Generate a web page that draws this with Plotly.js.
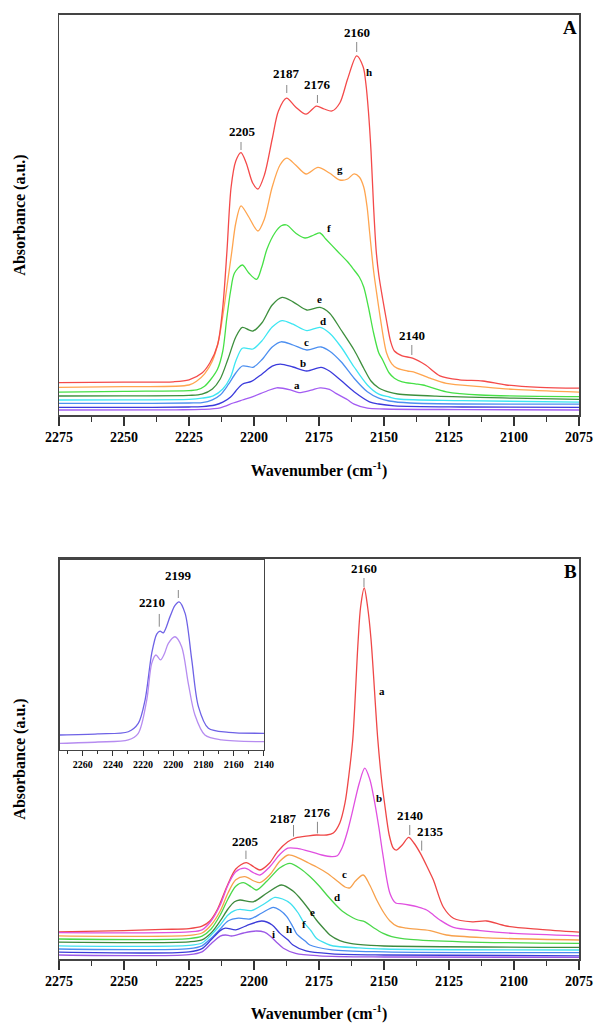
<!DOCTYPE html>
<html>
<head>
<meta charset="utf-8">
<script src="https://cdn.plot.ly/plotly-3.0.1.min.js"></script>
<style>html,body{margin:0;padding:0;background:#fff;}#chart{width:594px;height:1023px;}</style>
</head>
<body>
<div id="chart"></div>
<script>
// ---------- Panel A data (wavenumber, absorbance a.u.) ----------
const wnA_a = [2275, 2230, 2220, 2213, 2208, 2204.5, 2200.4, 2195, 2191.3, 2186, 2182.7, 2178, 2174.6, 2171, 2168.5, 2164, 2161.5, 2156.4, 2150, 2120, 2075];
const absA_a = [1.25, 1.3, 1.4, 1.8, 3, 3.75, 4.6, 6, 6.8, 6.3, 5.6, 6.2, 6.8, 6.4, 5.4, 3.8, 2.7, 1.7, 1.5, 1.35, 1.25];
const wnA_b = [2275, 2250, 2225, 2220, 2215, 2212, 2209, 2207, 2204.5, 2201, 2197, 2193, 2189.9, 2185, 2179.7, 2174.2, 2171, 2166.5, 2161.5, 2155.6, 2152, 2146, 2120, 2075];
const absA_b = [1.9, 1.9, 2, 2.1, 2.5, 3.2, 4.5, 6, 7.7, 8.4, 10.2, 12.2, 12.7, 12, 11, 11.9, 11, 8.6, 5.8, 3.3, 2.75, 2.3, 2, 1.9];
const wnA_c = [2275, 2250, 2225, 2220, 2216, 2213, 2210, 2207, 2204.5, 2202, 2200.4, 2197, 2193, 2189.6, 2185, 2179.7, 2174.2, 2171, 2166.5, 2161.5, 2156.4, 2152, 2148, 2140, 2075];
const absA_c = [2.9, 2.9, 3, 3.1, 3.8, 5, 7.5, 10.5, 12.25, 12.1, 11.9, 13.8, 17, 18.3, 17.5, 16.25, 17, 16, 13.3, 9.2, 5.8, 4.2, 3.5, 3, 2.7];
const wnA_d = [2275, 2250, 2225, 2220, 2215.7, 2212, 2209, 2207, 2204.5, 2202, 2200.4, 2197, 2193, 2189.2, 2185, 2179.7, 2174.6, 2171, 2166.5, 2161.5, 2156.4, 2152, 2148, 2144.5, 2120, 2075];
const absA_d = [3.75, 3.8, 3.9, 4.2, 4.8, 6.5, 9.5, 13.5, 16.7, 16.6, 16.5, 18.5, 22, 23.6, 22.7, 21.1, 21.9, 20.5, 17, 12, 7.5, 5.2, 4.5, 4, 3.6, 3.2];
const wnA_e = [2275, 2250, 2225, 2220, 2216, 2213, 2210, 2207, 2204.5, 2202, 2200.4, 2197, 2193, 2189.2, 2185, 2179.7, 2174.6, 2171, 2166.5, 2161.5, 2157.8, 2155, 2152, 2148, 2144.7, 2130, 2100, 2075];
const absA_e = [4.75, 4.8, 4.9, 5.2, 6.5, 9, 14, 19.5, 21.9, 21.3, 21, 23, 27.5, 29.4, 28.3, 26.25, 26.9, 25.5, 21.25, 16.25, 11.7, 8.5, 6.75, 5.7, 5.25, 4.7, 4.2, 3.9];
const wnA_f = [2275, 2250, 2225, 2222, 2219, 2216.5, 2214, 2212, 2210.5, 2209, 2207.5, 2204.5, 2202, 2199, 2197, 2195, 2192, 2189.5, 2187.4, 2184, 2180.4, 2177, 2174.6, 2172.4, 2168, 2164, 2161.5, 2159.5, 2157.8, 2156, 2154, 2152, 2150.5, 2148, 2146, 2143, 2138, 2135, 2126, 2113, 2075];
const absA_f = [5.7, 5.9, 6.1, 6.25, 7.2, 9, 11.5, 16, 24, 31, 35.5, 37.5, 35.5, 33.9, 37, 41.5, 45.5, 47.3, 47.5, 45.5, 44.25, 45, 45.5, 44, 41, 38.3, 36.25, 34.5, 32, 27, 20.5, 15.5, 13.75, 10.5, 9.2, 8.3, 7.8, 7.5, 5.8, 5, 4.6];
const wnA_g = [2275, 2250, 2225, 2222, 2219, 2216, 2213.5, 2211.5, 2210, 2208.5, 2207, 2205, 2202, 2198.5, 2196, 2193, 2190, 2187.4, 2184, 2180, 2175.4, 2171, 2167, 2164, 2161.5, 2159.5, 2157.8, 2156.5, 2155.5, 2154, 2152.5, 2151.5, 2150, 2149, 2147, 2145, 2141, 2138.7, 2132.3, 2126, 2113, 2100, 2075];
const absA_g = [6.9, 7.1, 7.5, 8.5, 10.3, 13.5, 19, 27, 34, 41, 48, 52.3, 49.5, 46, 49, 57, 62.5, 64.2, 62.5, 60.25, 61.9, 60.5, 58.75, 59, 60.3, 59.5, 57, 52, 45.5, 36, 29, 24.6, 18.5, 15.5, 12.8, 11.7, 11, 10.8, 9.2, 7.9, 7.1, 6.4, 5.7];
const wnA_h = [2275, 2250, 2231, 2225, 2220, 2217, 2214, 2212, 2210.4, 2208.8, 2207, 2205, 2203, 2200.5, 2198.5, 2196, 2193, 2190.6, 2187.5, 2184, 2180, 2176, 2173, 2170, 2167, 2164, 2160.5, 2158, 2157, 2156, 2155, 2154, 2153, 2152, 2150.5, 2149, 2147.5, 2146, 2143, 2139, 2134, 2128.5, 2121, 2112, 2103, 2090, 2075];
const absA_h = [8.1, 8.2, 8.3, 8.8, 10.5, 13, 17.5, 27, 41, 57, 63.5, 65.6, 63, 58, 56.5, 60, 69, 76, 79.2, 77, 75.2, 77.2, 76.5, 76, 78, 84, 89.8, 87, 83, 76, 66, 52, 41, 35, 29, 23.5, 18.5, 16, 14.8, 14.2, 12.5, 9.8, 8.8, 8.5, 7.5, 6.9, 6.7];

// ---------- Panel B data ----------
const wnB_a = [2275, 2250, 2235, 2225, 2220, 2217, 2214, 2210.5, 2207, 2203, 2200, 2197.7, 2194, 2191, 2187, 2184, 2179, 2176, 2172, 2169.5, 2167, 2165, 2163.5, 2162, 2160, 2159, 2157.6, 2156.3, 2155, 2152.4, 2150.8, 2149.8, 2148, 2146.5, 2145.3, 2143, 2140.5, 2138.5, 2136, 2133, 2131, 2127.2, 2123.3, 2116, 2110.5, 2103, 2090, 2075];
const absB_a = [6.8, 7.1, 7.4, 7.6, 8.2, 9.5, 12.5, 18, 22.5, 24.1, 23, 22.25, 24, 26.8, 29.3, 30.3, 30.8, 31, 31, 31.5, 34, 39, 46, 55, 79, 88, 92.75, 88, 80, 55, 44, 39, 31, 27.8, 27.2, 28.5, 30.4, 29, 26.4, 22.5, 19.75, 13, 10.2, 9.3, 9.5, 8.25, 7.4, 6.7];
const wnB_b = [2275, 2225, 2220, 2216.5, 2213, 2210, 2207, 2203.5, 2200, 2197.7, 2194, 2190, 2187, 2183, 2178, 2173.9, 2170, 2168, 2166, 2164, 2162.3, 2159.5, 2157.4, 2155.5, 2154, 2152, 2150.5, 2147.7, 2145.5, 2143, 2140.4, 2137, 2133.6, 2131, 2128.5, 2123.3, 2113, 2100, 2075];
const absB_b = [6.6, 6.8, 7.3, 9.5, 13.5, 18.5, 21.8, 22.7, 21.5, 21, 23, 26.2, 27.7, 27.6, 26.8, 26, 25.6, 25.8, 28, 32, 36.4, 44, 47.7, 45, 40.6, 33, 26.4, 16.4, 14, 13.8, 13.5, 13, 12.25, 11, 9.75, 7.9, 7.1, 6.4, 5.8];
const wnB_c = [2275, 2225, 2220, 2216.5, 2213, 2210, 2207, 2203.5, 2200, 2197.7, 2194, 2190, 2186.8, 2183, 2179, 2175.9, 2172, 2168, 2165, 2163.1, 2161, 2158, 2155.5, 2152.8, 2150, 2147.7, 2145, 2141.3, 2132.3, 2126, 2110, 2075];
const absB_c = [5.8, 5.9, 6.5, 8.5, 12, 16.5, 19.8, 20.6, 19.5, 19.1, 21, 24.5, 26, 25.3, 24, 23, 21.5, 19.5, 18, 17.8, 19.5, 21, 18.5, 14.75, 11.5, 9.5, 8.2, 7.7, 7.1, 6, 5.3, 4.75];
const wnB_d = [2275, 2225, 2220, 2216.5, 2213, 2210, 2207, 2204.1, 2201, 2199, 2195, 2190, 2186.2, 2182, 2178.5, 2175, 2172, 2168.5, 2165.7, 2162, 2160, 2157.3, 2154, 2150.3, 2147, 2140, 2120, 2075];
const absB_d = [5, 5.1, 5.7, 7.5, 11, 15, 18.2, 19.1, 18, 17.25, 19.5, 22.8, 23.9, 22.5, 20.6, 18.3, 16, 13.5, 11.8, 10.3, 9.75, 9.3, 7.8, 6.4, 5.6, 4.9, 4.3, 3.9];
const wnB_e = [2275, 2225, 2220, 2216.5, 2213, 2210, 2207.5, 2205.4, 2200.3, 2195, 2189.4, 2185, 2182.3, 2179, 2176, 2173, 2170.8, 2167, 2163, 2155, 2150, 2075];
const absB_e = [4.2, 4.3, 4.8, 6.5, 9.5, 12.5, 14.3, 14.75, 14.3, 16.5, 18.5, 17, 15.2, 12.5, 9.75, 7.5, 6, 4.6, 3.9, 3.4, 3.25, 2.9];
const wnB_f = [2275, 2225, 2220, 2216.5, 2213, 2210, 2207.5, 2205.4, 2201, 2196, 2192, 2189, 2186, 2183, 2181, 2178, 2176, 2172, 2169.5, 2160, 2150, 2075];
const absB_f = [3.3, 3.4, 4, 6, 8.5, 11, 12.1, 12.4, 12.1, 13.8, 15.4, 15, 13.9, 11.5, 9.3, 7, 5.2, 3.8, 3.25, 2.8, 2.5, 2.25];
const wnB_g = [2275, 2225, 2220, 2216.5, 2213, 2210, 2206, 2201.5, 2197, 2192.6, 2190, 2187.4, 2185, 2183.6, 2180, 2178.5, 2170, 2150, 2075];
const absB_g = [2.5, 2.6, 3.3, 5.2, 7.5, 9.5, 10.2, 10, 11.5, 12.9, 12.2, 10.6, 8, 6.3, 4.3, 3.5, 2.3, 1.8, 1.6];
const wnB_h = [2275, 2225, 2220, 2216.5, 2213, 2211, 2207, 2203, 2197, 2193, 2190, 2187, 2185, 2180, 2170, 2150, 2075];
const absB_h = [1.7, 1.8, 2.6, 4.8, 7.1, 7.7, 7.3, 8.3, 9.5, 8.5, 6.4, 4.8, 3.5, 2, 1.3, 1, 0.8];
const wnB_i = [2275, 2225, 2220, 2216.5, 2213, 2211, 2208.6, 2204, 2199, 2196, 2193.8, 2191, 2188.7, 2184, 2175, 2150, 2075];
const absB_i = [1, 1.1, 1.8, 3.8, 5.7, 6, 5.75, 6.5, 7, 6.7, 5.75, 4, 2.7, 1.4, 0.8, 0.5, 0.4];

// ---------- Inset data ----------
const wnI_1 = [2275, 2250, 2229.8, 2223.2, 2218.7, 2214.3, 2211, 2208.8, 2206.6, 2202.2, 2199, 2196.2, 2192.2, 2187.8, 2183.4, 2176.8, 2163.5, 2140];
const absI_1 = [7.9, 8.5, 9.6, 14, 26.3, 50.9, 61, 62.6, 61.7, 70.2, 76, 78, 71.9, 47.4, 22.8, 11.4, 9.3, 8.8];
const wnI_2 = [2275, 2250, 2229.8, 2223.2, 2217.6, 2214.3, 2211.5, 2208.5, 2206, 2203.3, 2198.9, 2194.5, 2190.1, 2185.7, 2179.1, 2168.1, 2140];
const absI_2 = [3.5, 4.2, 5.3, 8.8, 26.3, 45.6, 50, 47.4, 50.5, 56.1, 59.6, 54.4, 35.1, 18.4, 7.9, 5.3, 4.4];

// ---------- Labels ----------
const curveLettersA = ['a', 'b', 'c', 'd', 'e', 'f', 'g', 'h'];
const curveLettersB = ['a', 'b', 'c', 'd', 'e', 'f', 'h', 'i'];
const peakLabelsA = ['2205', '2187', '2176', '2160', '2140'];
const peakLabelsB = ['2160', '2205', '2187', '2176', '2140', '2135'];
const peakLabelsInset = ['2199', '2210'];
const xTickTitle = 'Wavenumber (cm<sup>-1</sup>)';
const yTickTitle = 'Absorbance (a.u.)';

// ---------- Styling ----------
const F = 'Liberation Serif, Times New Roman, serif';
const colorsA = ['#a35cf2', '#3b3bdc', '#4c8ff0', '#3de6f2', '#3d8f3d', '#46e046', '#ffa54f', '#f44a4a'];
const colorsB = ['#ef4747', '#e050e0', '#f7a14c', '#4ad84a', '#3d8a3d', '#40e0ef', '#4a8cf0', '#3c3cd8', '#9b57e6'];
const colorsI = ['#6e62e6', '#b68cf0'];

function line(x, y, color, xa, ya) {
  return {x: x, y: y, type: 'scatter', mode: 'lines', xaxis: xa, yaxis: ya,
    line: {color: color, width: 1.3, shape: 'spline', smoothing: 0.85}, hoverinfo: 'skip'};
}

const seriesA = [[wnA_a, absA_a], [wnA_b, absA_b], [wnA_c, absA_c], [wnA_d, absA_d], [wnA_e, absA_e], [wnA_f, absA_f], [wnA_g, absA_g], [wnA_h, absA_h]];
const seriesB = [[wnB_a, absB_a], [wnB_b, absB_b], [wnB_c, absB_c], [wnB_d, absB_d], [wnB_e, absB_e], [wnB_f, absB_f], [wnB_g, absB_g], [wnB_h, absB_h], [wnB_i, absB_i]];
const seriesI = [[wnI_1, absI_1], [wnI_2, absI_2]];

const traces = [];
seriesA.forEach((s, i) => traces.push(line(s[0], s[1], colorsA[i], 'x', 'y')));
seriesB.forEach((s, i) => traces.push(line(s[0], s[1], colorsB[i], 'x2', 'y2')));
seriesI.forEach((s, i) => traces.push(line(s[0], s[1], colorsI[i], 'x3', 'y3')));

// ---------- Annotation placement (positions, not data) ----------
const peakPosA = [[2204.5, 70.8, 2205, 66.25, 68.25], [2187.4, 85.25, 2187.4, 80.5, 82.5], [2175.6, 82.5, 2175.6, 78, 80], [2160.5, 95.6, 2160.5, 90.75, 93.25], [2139.3, 19.75, 2139.3, 15, 17.5]];
const letterPosA = [[2183.5, 7.6], [2181.2, 13], [2179.7, 18.2], [2173.6, 23.6], [2174.9, 29], [2171, 46.8], [2166.9, 61.5], [2155.8, 85.8]];
const peakPosB = [[2157.7, 97.6, 2157.7, 93, 95.25], [2203.1, 29.3, 2203.1, 25, 27.1], [2188.5, 35.2, 2184.8, 30.6, 33.5], [2175.4, 36.6, 2175.6, 31.4, 34.3], [2140, 35.8, 2140.1, 31, 33.5], [2132.3, 31.75, 2135.5, 27.1, 29.6]];
const letterPosB = [[2150.8, 67], [2152, 40.2], [2165.1, 21.3], [2168.1, 15.5], [2177.5, 11.7], [2180.8, 8.8], [2186.7, 7.4], [2192.5, 6.3]];
const peakPosI = [[2196.7, 91.6, 2196.7, 80, 84.2], [2213.9, 77.5, 2209.3, 64.9, 71.6]];

const annotations = [];
const shapes = [];
function addPeaks(labels, pos, xr, yr, size) {
  labels.forEach((t, i) => {
    const p = pos[i];
    annotations.push({x: p[0], y: p[1], xref: xr, yref: yr, text: t, showarrow: false,
      xanchor: 'center', yanchor: 'middle', font: {family: F, size: size, color: '#000', weight: 'bold'}});
    shapes.push({type: 'line', xref: xr, yref: yr, x0: p[2], x1: p[2], y0: p[3], y1: p[4],
      line: {color: '#888', width: 1}});
  });
}
function addLetters(labels, pos, xr, yr) {
  labels.forEach((t, i) => {
    annotations.push({x: pos[i][0], y: pos[i][1], xref: xr, yref: yr, text: t, showarrow: false,
      xanchor: 'center', yanchor: 'middle', font: {family: F, size: 11, color: '#000', weight: 'bold'}});
  });
}
addPeaks(peakLabelsA, peakPosA, 'x', 'y', 13);
addPeaks(peakLabelsB, peakPosB, 'x2', 'y2', 13);
addPeaks(peakLabelsInset, peakPosI, 'x3', 'y3', 13);
addLetters(curveLettersA, letterPosA, 'x', 'y');
addLetters(curveLettersB, letterPosB, 'x2', 'y2');
annotations.push({x: 0.9596, y: 0.9729, xref: 'paper', yref: 'paper', text: 'A', showarrow: false,
  xanchor: 'center', yanchor: 'middle', font: {family: F, size: 19, color: '#000', weight: 'bold'}});
annotations.push({x: 0.9596, y: 0.4418, xref: 'paper', yref: 'paper', text: 'B', showarrow: false,
  xanchor: 'center', yanchor: 'middle', font: {family: F, size: 19, color: '#000', weight: 'bold'}});

function xAxis(domain, anchor) {
  return {domain: domain, anchor: anchor, range: [2275, 2075], tick0: 2075, dtick: 25,
    ticks: 'outside', ticklen: 9, tickwidth: 1.2, tickcolor: '#333',
    minor: {dtick: 12.5, ticks: 'outside', ticklen: 5, tickwidth: 1.2, tickcolor: '#333'},
    showline: true, mirror: true, linecolor: '#444', linewidth: 1.5,
    showgrid: false, zeroline: false, automargin: false,
    tickfont: {family: F, size: 14, color: '#000', weight: 'bold'},
    title: {text: xTickTitle, standoff: 20, font: {family: F, size: 16, color: '#000', weight: 'bold'}}};
}
function yAxis(domain, anchor) {
  return {domain: domain, anchor: anchor, range: [0, 100], showticklabels: false, ticks: '',
    showline: true, mirror: true, linecolor: '#444', linewidth: 1.5,
    showgrid: false, zeroline: false, automargin: false,
    title: {text: yTickTitle, standoff: 28, font: {family: F, size: 16, color: '#000', weight: 'bold'}}};
}

const layout = {
  width: 594, height: 1023, margin: {l: 0, r: 0, t: 0, b: 0},
  paper_bgcolor: '#fff', plot_bgcolor: '#fff', showlegend: false,
  xaxis: xAxis([0.09933, 0.97475], 'y'),
  yaxis: yAxis([0.59433, 0.98534], 'x'),
  xaxis2: xAxis([0.09933, 0.97475], 'y2'),
  yaxis2: yAxis([0.06256, 0.45357], 'x2'),
  xaxis3: {domain: [0.10101, 0.44444], anchor: 'y3', range: [2275, 2140], tick0: 2140, dtick: 20,
    ticks: 'outside', ticklen: 5, tickwidth: 1, tickcolor: '#333',
    minor: {dtick: 10, ticks: 'outside', ticklen: 3, tickwidth: 1, tickcolor: '#333'},
    showline: true, mirror: true, linecolor: '#444', linewidth: 1.2,
    showgrid: false, zeroline: false, automargin: false,
    tickfont: {family: F, size: 10, color: '#000', weight: 'bold'}},
  yaxis3: {domain: [0.26686, 0.45259], anchor: 'x3', range: [0, 100], showticklabels: false, ticks: '',
    showline: true, mirror: true, linecolor: '#444', linewidth: 1.2,
    showgrid: false, zeroline: false, automargin: false},
  annotations: annotations,
  shapes: shapes
};

Plotly.newPlot('chart', traces, layout, {staticPlot: true, displayModeBar: false});
</script>
</body>
</html>
